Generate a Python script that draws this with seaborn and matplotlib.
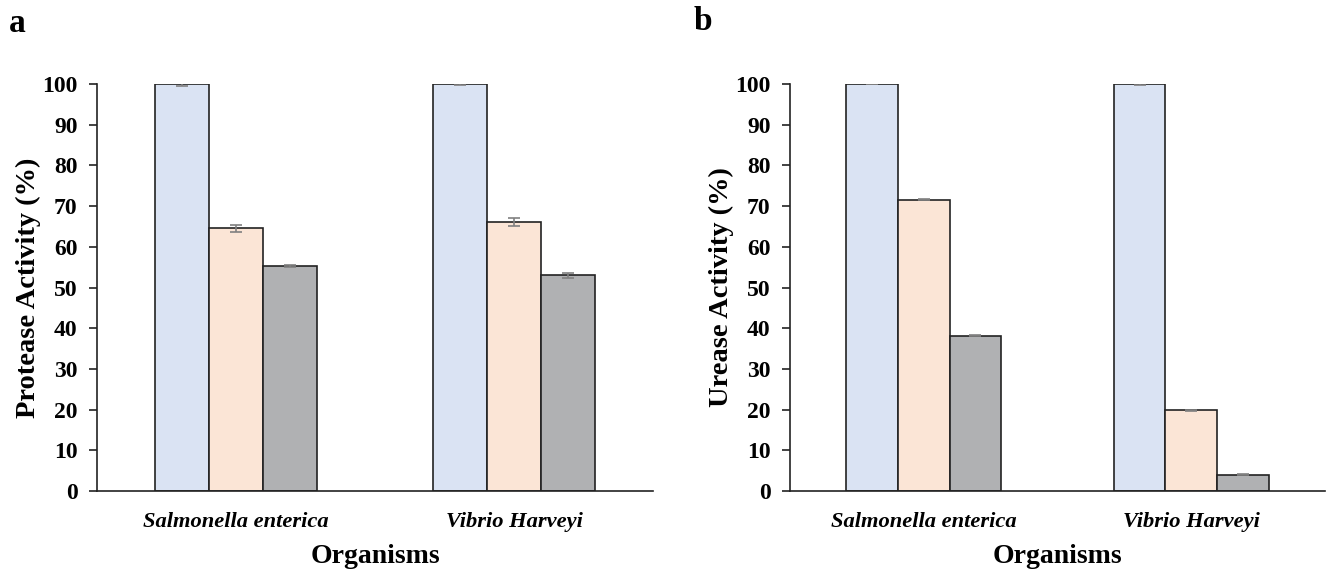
import matplotlib
matplotlib.use("Agg")
import matplotlib.pyplot as plt
import seaborn as sns
import pandas as pd
import numpy as np

organisms = ["Salmonella enterica", "Vibrio Harveyi"]
treatments = ["Control", "Treatment 1", "Treatment 2"]
colors = ["#DAE3F3", "#FBE5D6", "#B0B1B3"]

protease_vals = {"Control": [100.0, 100.0], "Treatment 1": [64.5, 66.0], "Treatment 2": [55.3, 53.0]}
protease_err = {"Control": [0.4, 0.2], "Treatment 1": [0.8, 1.0], "Treatment 2": [0.3, 0.6]}
urease_vals = {"Control": [100.0, 100.0], "Treatment 1": [71.6, 19.8], "Treatment 2": [38.2, 4.0]}
urease_err = {"Control": [0.1, 0.15], "Treatment 1": [0.1, 0.15], "Treatment 2": [0.1, 0.1]}

yticks = [0, 10, 20, 30, 40, 50, 60, 70, 80, 90, 100]

sns.set_style("white")
plt.rcParams["font.family"] = ["Liberation Serif", "DejaVu Serif"]
plt.rcParams["text.color"] = "black"
plt.rcParams["axes.labelcolor"] = "black"
plt.rcParams["xtick.color"] = "black"
plt.rcParams["ytick.color"] = "black"

fig = plt.figure(figsize=(13.35, 5.75), dpi=100)
ax1 = fig.add_axes([97/1335, 1-491/575, (653-97)/1335, (491-84)/575])
ax2 = fig.add_axes([790/1335, 1-491/575, (1325-790)/1335, (491-84)/575])


def make_df(vals):
    rows = []
    for t in treatments:
        for o, v in zip(organisms, vals[t]):
            rows.append({"Organism": o, "Treatment": t, "Value": v})
    return pd.DataFrame(rows)


def draw(ax, vals, errs, ylabel):
    df = make_df(vals)
    sns.barplot(data=df, x="Organism", y="Value", hue="Treatment", order=organisms,
                hue_order=treatments, palette=colors, width=0.58, gap=0,
                edgecolor="#222222", linewidth=1.2, errorbar=None, legend=False,
                saturation=1, ax=ax)
    # error bars at bar centers (patches ordered hue-level then category)
    i = 0
    for t in treatments:
        for j, o in enumerate(organisms):
            p = ax.patches[i]
            i += 1
            cx = p.get_x() + p.get_width() / 2
            ax.errorbar(cx, p.get_height(), yerr=errs[t][j], fmt="none",
                        ecolor="#808080", elinewidth=1.2, capsize=4, capthick=1.2, zorder=5)
    ax.set_xlim(-0.5, 1.5)
    ax.set_ylim(0, 100)
    ax.set_yticks(yticks)
    ax.set_yticklabels([str(v) for v in yticks], fontsize=17, fontweight="bold")
    ax.set_xticks([0, 1])
    ax.set_xticklabels(organisms, fontsize=16.2, fontweight="bold", style="italic")
    ax.set_xticks([-0.5, 0.5, 1.5], minor=True)
    ax.tick_params(axis="x", which="major", length=0, pad=15)
    ax.tick_params(axis="x", which="minor", direction="out", length=7, width=1.2, color="#222222")
    ax.tick_params(axis="y", direction="out", length=6, width=1.2, color="#222222", pad=8, left=True)
    for s in ["top", "right"]:
        ax.spines[s].set_visible(False)
    for s in ["left", "bottom"]:
        ax.spines[s].set_color("#222222")
        ax.spines[s].set_linewidth(1.2)
    ax.set_ylabel(ylabel, fontsize=20.5, fontweight="bold", labelpad=1)
    ax.set_xlabel("Organisms", fontsize=20, fontweight="bold", labelpad=9)


draw(ax1, protease_vals, protease_err, "Protease Activity (%)")
draw(ax2, urease_vals, urease_err, "Urease Activity (%)")

fig.text(17/1335, 1-23/575, "a", fontsize=24, fontweight="bold", ha="center", va="center")
fig.text(703/1335, 1-21/575, "b", fontsize=24, fontweight="bold", ha="center", va="center")

fig.savefig("out.png", dpi=100, facecolor="white")
